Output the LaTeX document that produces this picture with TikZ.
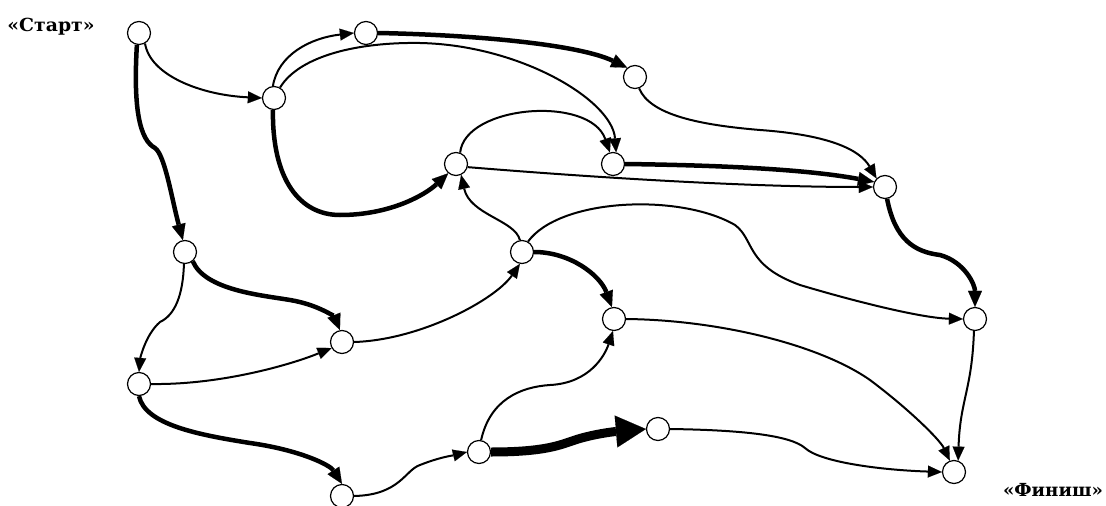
\documentclass[tikz,border=0pt]{standalone}
\usepackage{fontspec}
\newfontfamily\lblfont{DejaVu Serif}
\usetikzlibrary{arrows.meta}
\begin{document}
\begin{tikzpicture}[x=1pt,y=-1pt,
  ev/.style={circle,draw,line width=1.2pt,fill=white,minimum size=23pt,inner sep=0pt},
  job/.style={line width=2pt,-{Triangle[length=14pt,width=12pt,line width=0.1pt]}},
  crit/.style={line width=4.5pt,-{Triangle[length=16pt,width=14pt,line width=0.1pt]}},
  heavy/.style={line width=9pt,-{Triangle[length=30pt,width=32pt,line width=0.1pt]}},
  lbl/.style={font=\lblfont\bfseries\fontsize{18}{18}\selectfont,inner sep=0pt}
]
\useasboundingbox (0,0) rectangle (1106,506);

% events
\node[ev] (S) at (139,33) {};
\node[ev] (A) at (274,98) {};
\node[ev] (B) at (366,33) {};
\node[ev] (C) at (635,77) {};
\node[ev] (D) at (456,164) {};
\node[ev] (E) at (613,164) {};
\node[ev] (F) at (885,187) {};
\node[ev] (G) at (185,252) {};
\node[ev] (H) at (522,252) {};
\node[ev] (I) at (614,319) {};
\node[ev] (J) at (975,319) {};
\node[ev] (K) at (342,342) {};
\node[ev] (L) at (139,384) {};
\node[ev] (M) at (479,452) {};
\node[ev] (N) at (658,429) {};
\node[ev] (O) at (342,496) {};
\node[ev] (P) at (954,472) {};

\node[lbl] (start) at (51,27) {\resizebox{87pt}{\height}{«Старт»}};
\node[lbl] (finish) at (1053,490) {\resizebox{100pt}{\height}{«Финиш»}};

% ordinary jobs
\draw[job] (S.-60) .. controls (150,75) and (200,95) .. (A.west);
\draw[job] (A.95) .. controls (278,55) and (310,38) .. (B.west);
\draw[job] (A.60) .. controls (300,55) and (360,42) .. (420,43)
                  .. controls (520,45) and (612,100) .. (E.75);
\draw[job] (C.-70) .. controls (650,115) and (700,125) .. (760,130)
                   .. controls (830,135) and (860,150) .. (F.135);
\draw[job] (D.70) .. controls (465,105) and (590,95) .. (E.105);
\draw[job] (D.-15) .. controls (600,178) and (750,187) .. (F.west);
\draw[job] (G.-95) .. controls (183,295) and (175,315) .. (160,322)
                   .. controls (145,335) and (140,360) .. (L.north);
\draw[job] (H.100) .. controls (515,220) and (470,215) .. (D.-65);
\draw[job] (H.60) .. controls (560,198) and (680,193) .. (735,225)
                  .. controls (755,240) and (745,265) .. (800,285)
                  .. controls (850,300) and (920,318) .. (J.west);
\draw[job] (K.east) .. controls (420,340) and (495,300) .. (H.-100);
\draw[job] (L.east) .. controls (220,385) and (290,365) .. (K.-150);
\draw[job] (O.east) .. controls (400,495) and (405,470) .. (420,465)
                    .. controls (440,457) and (455,455) .. (M.west);
\draw[job] (M.80) .. controls (490,400) and (520,387) .. (550,385)
                  .. controls (590,383) and (605,355) .. (I.-95);
\draw[job] (I.east) .. controls (720,320) and (820,345) .. (870,380)
                    .. controls (910,410) and (940,440) .. (P.110);
\draw[job] (J.-95) .. controls (972,390) and (960,400) .. (P.70);
\draw[job] (N.east) .. controls (740,430) and (790,435) .. (805,448)
                    .. controls (820,462) and (880,470) .. (P.west);

% critical jobs
\draw[crit] (S.-100) .. controls (133,110) and (140,140) .. (155,148)
                     .. controls (165,155) and (172,200) .. (G.100);
\draw[crit] (A.-95) .. controls (272,180) and (300,215) .. (340,215)
                    .. controls (390,215) and (425,195) .. (D.-130);
\draw[crit] (B.east) .. controls (480,35) and (580,45) .. (C.130);
\draw[crit] (E.east) .. controls (700,165) and (800,168) .. (F.155);
\draw[crit] (F.-80) .. controls (895,240) and (915,252) .. (940,255)
                    .. controls (965,262) and (975,285) .. (J.north);
\draw[crit] (G.-50) .. controls (205,290) and (260,295) .. (290,300)
                    .. controls (320,305) and (335,318) .. (K.100);
\draw[crit] (H.east) .. controls (570,252) and (600,275) .. (I.100);
\draw[crit] (L.-90) .. controls (145,425) and (200,435) .. (250,443)
                    .. controls (300,450) and (330,465) .. (O.north);
\draw[heavy] (M.east) .. controls (545,452) and (560,445) .. (575,440)
                      .. controls (590,435) and (610,432) .. (N.west);
\end{tikzpicture}
\end{document}
